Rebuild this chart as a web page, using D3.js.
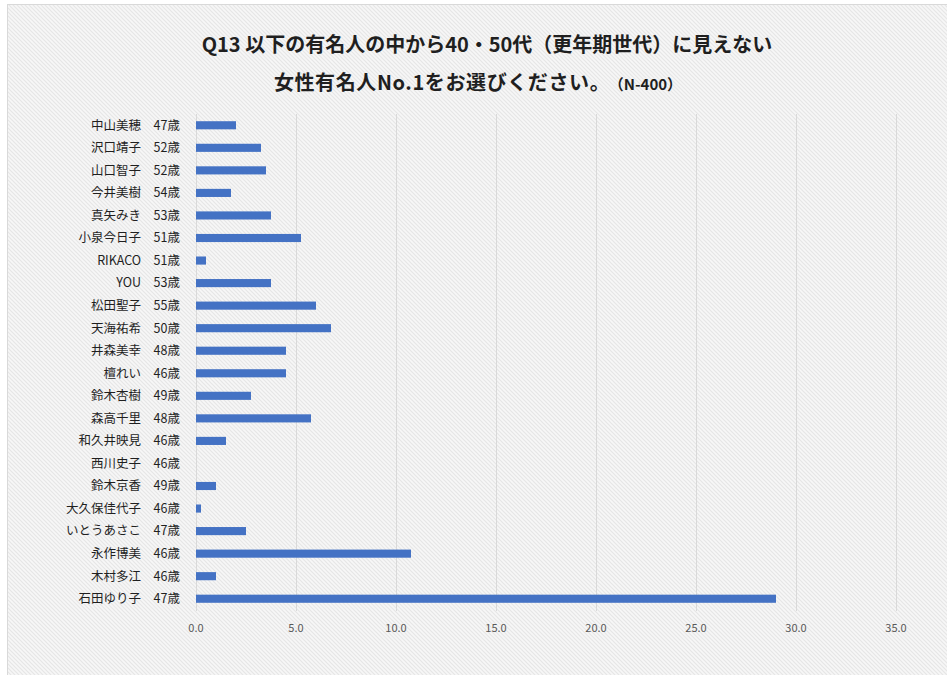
<!DOCTYPE html>
<html><head><meta charset="utf-8">
<script src="https://cdn.jsdelivr.net/npm/d3@7"></script>
<style>
html,body{margin:0;padding:0;background:#fff;}
svg{display:block;}
text{font-family:"Noto Sans CJK JP","Noto Sans",sans-serif;}
</style></head>
<body>
<svg id="chart" width="947" height="675"></svg>
<script>
const names = ["中山美穂","沢口靖子","山口智子","今井美樹","真矢みき","小泉今日子","RIKACO","YOU","松田聖子","天海祐希","井森美幸","檀れい","鈴木杏樹","森高千里","和久井映見","西川史子","鈴木京香","大久保佳代子","いとうあさこ","永作博美","木村多江","石田ゆり子"];
const ages = ["47歳","52歳","52歳","54歳","53歳","51歳","51歳","53歳","55歳","50歳","48歳","46歳","49歳","48歳","46歳","46歳","49歳","46歳","47歳","46歳","46歳","47歳"];
const values = [2.0,3.25,3.5,1.75,3.75,5.25,0.5,3.75,6.0,6.75,4.5,4.5,2.75,5.75,1.5,0,1.0,0.25,2.5,10.75,1.0,29.0];
const xTicks = [0,5,10,15,20,25,30,35];
const titleLine1 = "Q13 以下の有名人の中から40・50代（更年期世代）に見えない";
const titleLine2 = "女性有名人No.1をお選びください。";
const titleNote = "（N-400）";

const svg = d3.select("#chart");
const defs = svg.append("defs");
const pat = defs.append("pattern").attr("id","stripe").attr("patternUnits","userSpaceOnUse")
  .attr("width",4).attr("height",4);
pat.append("rect").attr("width",4).attr("height",4).attr("fill","#f7f7f7");
pat.append("path").attr("d","M-1,-1 L5,5 M-1,3 L1,5 M3,-1 L5,1").attr("stroke","#e6e6e6").attr("stroke-width",1.2);

svg.append("rect").attr("x",7.5).attr("y",4.5).attr("width",960).attr("height",700)
  .attr("fill","url(#stripe)").attr("stroke","#d9d9d9").attr("stroke-width",1);

const x = d3.scaleLinear().domain([0,35]).range([196,896]);
const y = d3.scaleBand().domain(names).range([114,610]).paddingInner(0.64).paddingOuter(0.32);

// gridlines
svg.append("g").selectAll("line").data(xTicks).join("line")
  .attr("x1",d=>Math.round(x(d))+0.5).attr("x2",d=>Math.round(x(d))+0.5)
  .attr("y1",114).attr("y2",611)
  .attr("stroke","#d9d9d9").attr("stroke-width",1);

// x tick labels
svg.append("g").selectAll("text").data(xTicks).join("text")
  .attr("x",d=>x(d)).attr("y",632).attr("text-anchor","middle")
  .attr("font-size",11).attr("fill","#595959")
  .text(d=>d3.format(".1f")(d));

// bars
svg.append("g").selectAll("rect").data(values).join("rect")
  .attr("x",x(0)).attr("y",(d,i)=>y(names[i]))
  .attr("width",d=>x(d)-x(0)).attr("height",y.bandwidth())
  .attr("fill","#4472c4");

// labels
const lab = svg.append("g");
lab.selectAll("text.name").data(names).join("text").attr("class","name")
  .attr("x",141).attr("y",d=>y(d)+y.bandwidth()/2).attr("dy","0.35em")
  .attr("text-anchor","end").attr("font-size",12.5).attr("fill","#1f1f1f").text(d=>d);
lab.selectAll("text.age").data(ages).join("text").attr("class","age")
  .attr("x",180).attr("y",(d,i)=>y(names[i])+y.bandwidth()/2).attr("dy","0.35em")
  .attr("text-anchor","end").attr("font-size",12.5).attr("fill","#1f1f1f").text(d=>d);

// title
svg.append("text").attr("x",487).attr("y",52).attr("text-anchor","middle")
  .attr("font-size",20).attr("font-weight","bold").attr("fill","#1f1f1f").text(titleLine1);
const t2 = svg.append("text").attr("x",478).attr("y",90).attr("text-anchor","middle")
  .attr("font-weight","bold").attr("fill","#1f1f1f");
t2.append("tspan").attr("font-size",20).attr("letter-spacing",0.6).text(titleLine2);
t2.append("tspan").attr("font-size",15).attr("dx",6).text(titleNote);
</script>
</body></html>
